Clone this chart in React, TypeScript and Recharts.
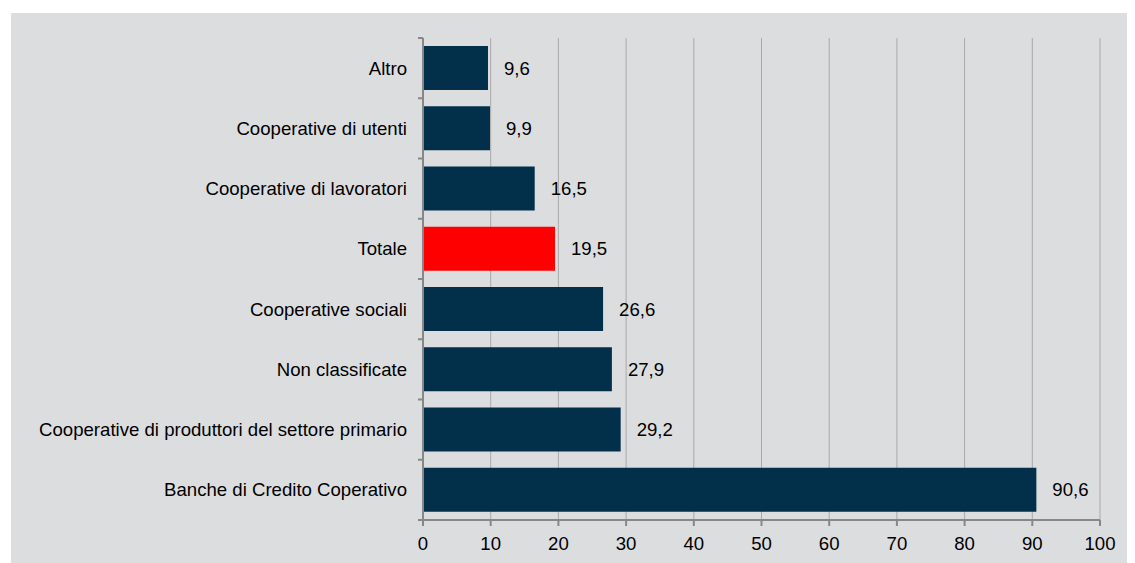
import { BarChart, Bar, XAxis, YAxis, CartesianGrid, Cell, LabelList } from 'recharts';

const categories = [
  'Altro',
  'Cooperative di utenti',
  'Cooperative di lavoratori',
  'Totale',
  'Cooperative sociali',
  'Non classificate',
  'Cooperative di produttori del settore primario',
  'Banche di Credito Coperativo',
];
const values = [9.6, 9.9, 16.5, 19.5, 26.6, 27.9, 29.2, 90.6];
const xTicks = [0, 10, 20, 30, 40, 50, 60, 70, 80, 90, 100];

const data = categories.map((name, i) => ({ name, value: values[i] }));

const FONT = '"Liberation Sans", Arial, sans-serif';
const FS = 18.6;
const AXIS = '#878787';

// category labels plus the Excel-style tick marks between categories
function CategoryTick(props: any) {
  const { x, y, payload, index, height, visibleTicksCount } = props;
  let half = payload && payload.offset ? payload.offset : 0;
  if (!half && height && visibleTicksCount) half = height / visibleTicksCount / 2;
  return (
    <g>
      <text
        x={x - 16}
        y={y}
        dy="0.355em"
        textAnchor="end"
        fill="#000"
        fontSize={FS}
        fontFamily={FONT}
      >
        {payload.value}
      </text>
      <line x1={x - 5} x2={x} y1={y - half} y2={y - half} stroke={AXIS} strokeWidth={2} />
      {index === categories.length - 1 && (
        <line x1={x - 5} x2={x} y1={y + half} y2={y + half} stroke={AXIS} strokeWidth={2} />
      )}
    </g>
  );
}

export default function App() {
  return (
    <div style={{ marginLeft: 3, marginTop: 5, width: 1124, height: 550, background: '#dcdddf' }}>
      <BarChart
        width={1124}
        height={550}
        data={data}
        layout="vertical"
        margin={{ top: 25, right: 35, bottom: 0, left: 0 }}
      >
        <CartesianGrid horizontal={false} stroke="#a9a9a9" strokeWidth={1} />
        <XAxis
          type="number"
          domain={[0, 100]}
          ticks={xTicks}
          interval={0}
          height={43}
          tickSize={6}
          tickMargin={11}
          axisLine={{ stroke: AXIS, strokeWidth: 2 }}
          tickLine={{ stroke: AXIS, strokeWidth: 2 }}
          tick={{ fill: '#000', fontSize: FS, fontFamily: FONT }}
        />
        <YAxis
          type="category"
          dataKey="name"
          width={412}
          interval={0}
          tickSize={0}
          tickMargin={0}
          tickLine={false}
          axisLine={{ stroke: AXIS, strokeWidth: 2 }}
          tick={<CategoryTick />}
        />
        <Bar dataKey="value" barSize={44} isAnimationActive={false}>
          {data.map((d) => (
            <Cell key={d.name} fill={d.name === 'Totale' ? '#ff0000' : '#02304a'} />
          ))}
          <LabelList
            dataKey="value"
            position="right"
            offset={16}
            fill="#000"
            fontSize={FS}
            fontFamily={FONT}
            formatter={(v: any) => Number(v).toFixed(1).replace('.', ',')}
          />
        </Bar>
      </BarChart>
    </div>
  );
}
